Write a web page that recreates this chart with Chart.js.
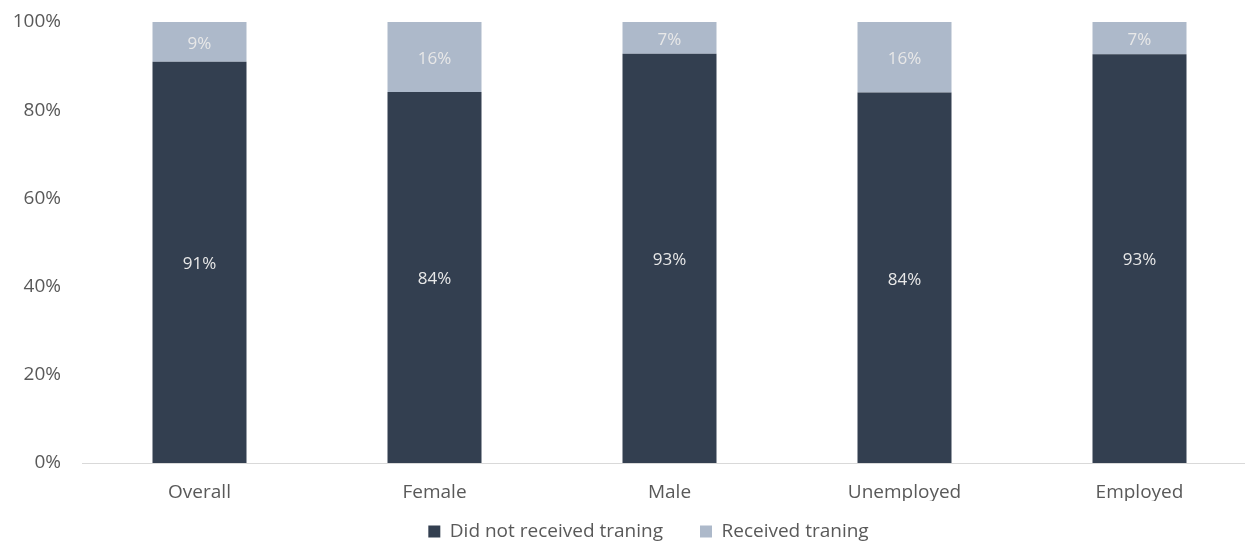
<!DOCTYPE html>
<html>
<head>
<meta charset="utf-8">
<script src="https://cdn.jsdelivr.net/npm/chart.js@4/dist/chart.umd.min.js"></script>
<style>
  html, body { margin: 0; padding: 0; background: #fff; overflow: hidden; }
  /* a bit wider than the window: the last category runs past the right edge, as in the original */
  #wrap { width: 1257px; height: 541px; }
</style>
</head>
<body>
<div id="wrap"><canvas id="chart"></canvas></div>
<script>
const categories = ['Overall', 'Female', 'Male', 'Unemployed', 'Employed'];
const notReceived = [91, 84.1, 92.8, 84, 92.7];
const received = [9, 15.9, 7.2, 16, 7.3];
const yTicks = [0, 20, 40, 60, 80, 100];

const FONT = "'Open Sans', 'Liberation Sans', sans-serif";

// percent labels in the middle of every bar segment
const barLabels = {
  id: 'barLabels',
  afterDatasetsDraw(chart) {
    const ctx = chart.ctx;
    ctx.save();
    ctx.font = '17px ' + FONT;
    ctx.fillStyle = '#e8e8e8';
    ctx.textAlign = 'center';
    ctx.textBaseline = 'middle';
    chart.data.datasets.forEach((ds, i) => {
      chart.getDatasetMeta(i).data.forEach((bar, j) => {
        const p = bar.getProps(['x', 'y', 'base'], true);
        ctx.fillText(Math.round(ds.data[j]) + '%', p.x, (p.y + p.base) / 2 + 2);
      });
    });
    ctx.restore();
  }
};

// keep the legend short (its padding is only used for the gap between items)
// and move it where the original has it
const legendPlace = {
  id: 'legendPlace',
  beforeLayout(chart) {
    const lg = chart.legend;
    if (lg && !lg._patched) {
      const orig = lg.fit;
      lg.fit = function () { orig.call(this); this.height = 40; };
      lg._patched = true;
    }
  },
  afterLayout(chart) {
    const lg = chart.legend;
    if (!lg) return;
    const dx = 20;
    lg.left += dx;
    lg.right += dx;
    lg.top = 485;
  }
};

new Chart(document.getElementById('chart'), {
  type: 'bar',
  data: {
    labels: categories,
    datasets: [
      {
        label: 'Did not received traning',
        data: notReceived,
        backgroundColor: '#333f50',
        categoryPercentage: 1,
        barPercentage: 0.4
      },
      {
        label: 'Received traning',
        data: received,
        backgroundColor: '#adb9ca',
        categoryPercentage: 1,
        barPercentage: 0.4
      }
    ]
  },
  options: {
    responsive: true,
    maintainAspectRatio: false,
    animation: false,
    layout: { padding: { top: 22, right: 0, bottom: 0, left: 0 } },
    scales: {
      x: {
        stacked: true,
        afterFit: (s) => { s.height = 38; },
        grid: { display: false, drawTicks: false },
        border: { display: true, color: '#d9d9d9', width: 1 },
        ticks: { color: '#595959', font: { family: FONT, size: 19 }, padding: 18 }
      },
      y: {
        stacked: true,
        min: 0,
        max: 100,
        afterBuildTicks: (s) => { s.ticks = yTicks.map(v => ({ value: v })); },
        afterFit: (s) => { s.width = 82; s.paddingTop = 0; },
        grid: { display: false, drawTicks: false },
        border: { display: false },
        ticks: {
          color: '#595959',
          font: { family: FONT, size: 19 },
          padding: 21,
          callback: (v) => v + '%'
        }
      }
    },
    plugins: {
      legend: {
        position: 'bottom',
        labels: {
          color: '#595959',
          font: { family: FONT, size: 19 },
          boxWidth: 12,
          boxHeight: 12,
          padding: 37
        }
      },
      tooltip: { enabled: false }
    }
  },
  plugins: [barLabels, legendPlace]
});
</script>
</body>
</html>
